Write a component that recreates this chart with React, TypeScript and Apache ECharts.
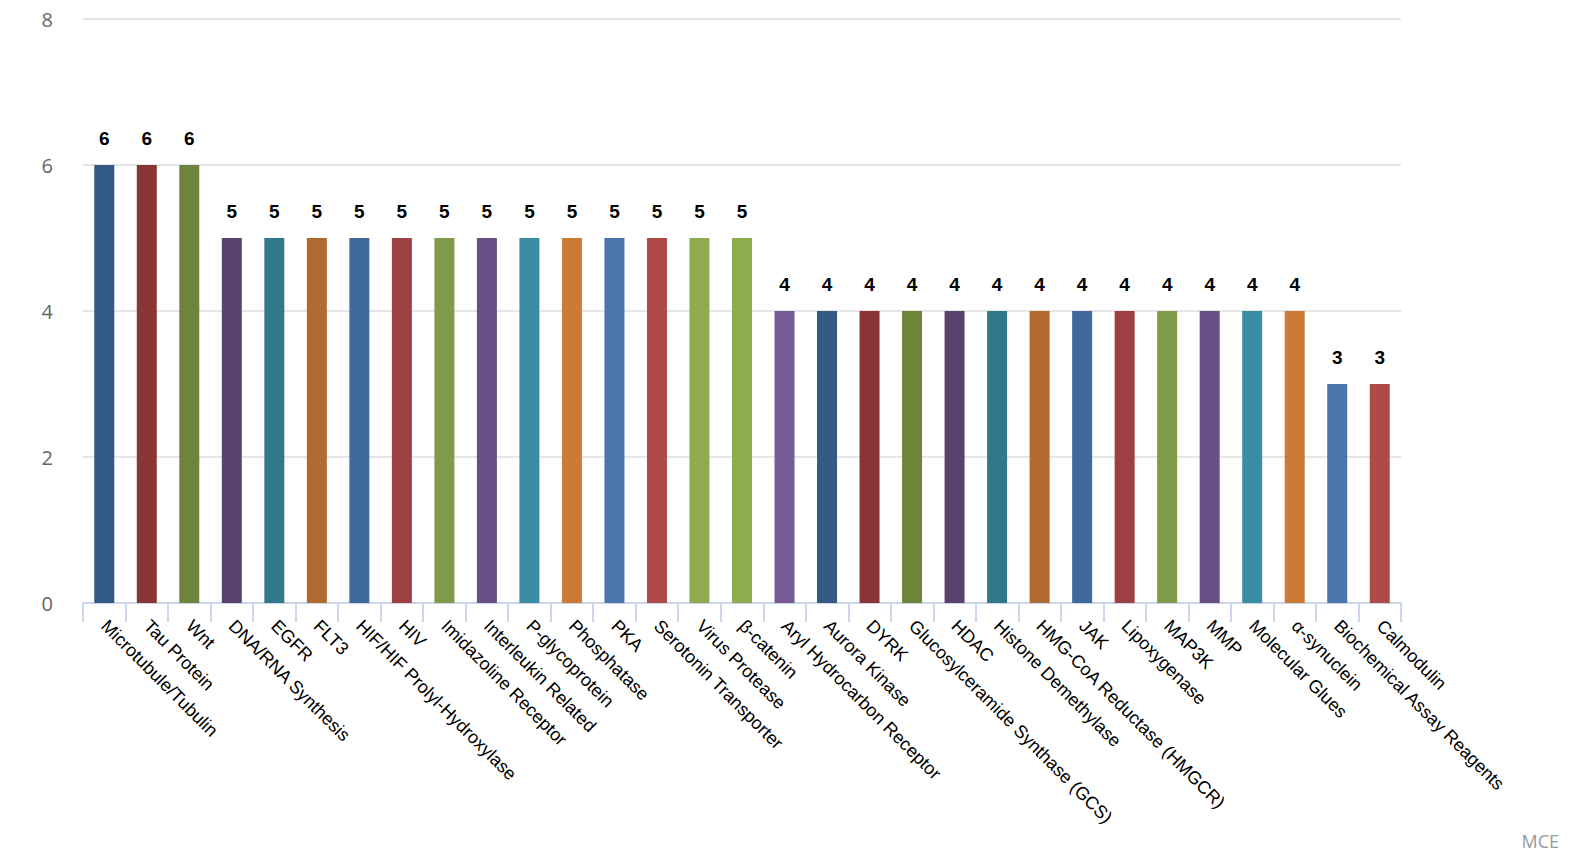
import React, { useEffect, useRef } from "react";
import * as echarts from "echarts";

const categories = [
  "Microtubule/Tubulin", "Tau Protein", "Wnt", "DNA/RNA Synthesis", "EGFR", "FLT3",
  "HIF/HIF Prolyl-Hydroxylase", "HIV", "Imidazoline Receptor", "Interleukin Related",
  "P-glycoprotein", "Phosphatase", "PKA", "Serotonin Transporter", "Virus Protease",
  "β-catenin", "Aryl Hydrocarbon Receptor", "Aurora Kinase", "DYRK",
  "Glucosylceramide Synthase (GCS)", "HDAC", "Histone Demethylase",
  "HMG-CoA Reductase (HMGCR)", "JAK", "Lipoxygenase", "MAP3K", "MMP",
  "Molecular Glues", "α-synuclein", "Biochemical Assay Reagents", "Calmodulin",
];

const values = [6, 6, 6, 5, 5, 5, 5, 5, 5, 5, 5, 5, 5, 5, 5, 5, 4, 4, 4, 4, 4, 4, 4, 4, 4, 4, 4, 4, 4, 3, 3];

const palette = [
  "#335A85", "#8A3535", "#6E843D", "#5A426F", "#31798A", "#B16A30", "#40699C",
  "#9E3F41", "#7F9A48", "#684F86", "#3B8CA5", "#CC7A37", "#4A75AD", "#B04A48",
  "#8EAB50", "#8EAB50", "#765B96",
];

const yTicks = [0, 2, 4, 6, 8];

export default function App() {
  const ref = useRef<HTMLDivElement>(null);
  useEffect(() => {
    if (!ref.current) return;
    const chart = echarts.init(ref.current, undefined, { renderer: "svg" });
    chart.setOption({
      animation: false,
      backgroundColor: "#ffffff",
      grid: { left: 75, right: 171, top: 11, bottom: 249, containLabel: false },
      graphic: [
        {
          type: "text",
          right: 13,
          bottom: 2,
          style: { text: "MCE", fill: "#999999", font: "18px 'Open Sans', sans-serif" },
        },
      ],
      xAxis: {
        type: "category",
        data: categories,
        axisLine: { lineStyle: { color: "#ccd6eb", width: 2 } },
        axisTick: { show: true, length: 19, lineStyle: { color: "#ccd6eb", width: 2 } },
        axisLabel: {
          rotate: -45,
          interval: 0,
          margin: 20,
          color: "#000000",
          fontSize: 18,
          fontFamily: "'Liberation Sans', Arial, sans-serif",
        },
      },
      yAxis: {
        type: "value",
        min: yTicks[0],
        max: yTicks[yTicks.length - 1],
        interval: 2,
        axisLine: { show: false },
        axisTick: { show: false },
        splitLine: { lineStyle: { color: "#e6e6e6", width: 2 } },
        axisLabel: {
          color: "#666666",
          fontSize: 20,
          lineHeight: 20,
          margin: 30,
          fontFamily: "'Open Sans', sans-serif",
        },
      },
      series: [
        {
          type: "bar",
          data: values.map((v, i) => ({ value: v, itemStyle: { color: palette[i % palette.length] } })),
          barWidth: 20,
          label: {
            show: true,
            position: "top",
            distance: 17,
            color: "#000000",
            fontWeight: "bold",
            fontSize: 19,
            fontFamily: "'Liberation Sans', Arial, sans-serif",
          },
        },
      ],
    });
    return () => chart.dispose();
  }, []);
  return <div ref={ref} style={{ width: 1564, height: 844 }} />;
}
